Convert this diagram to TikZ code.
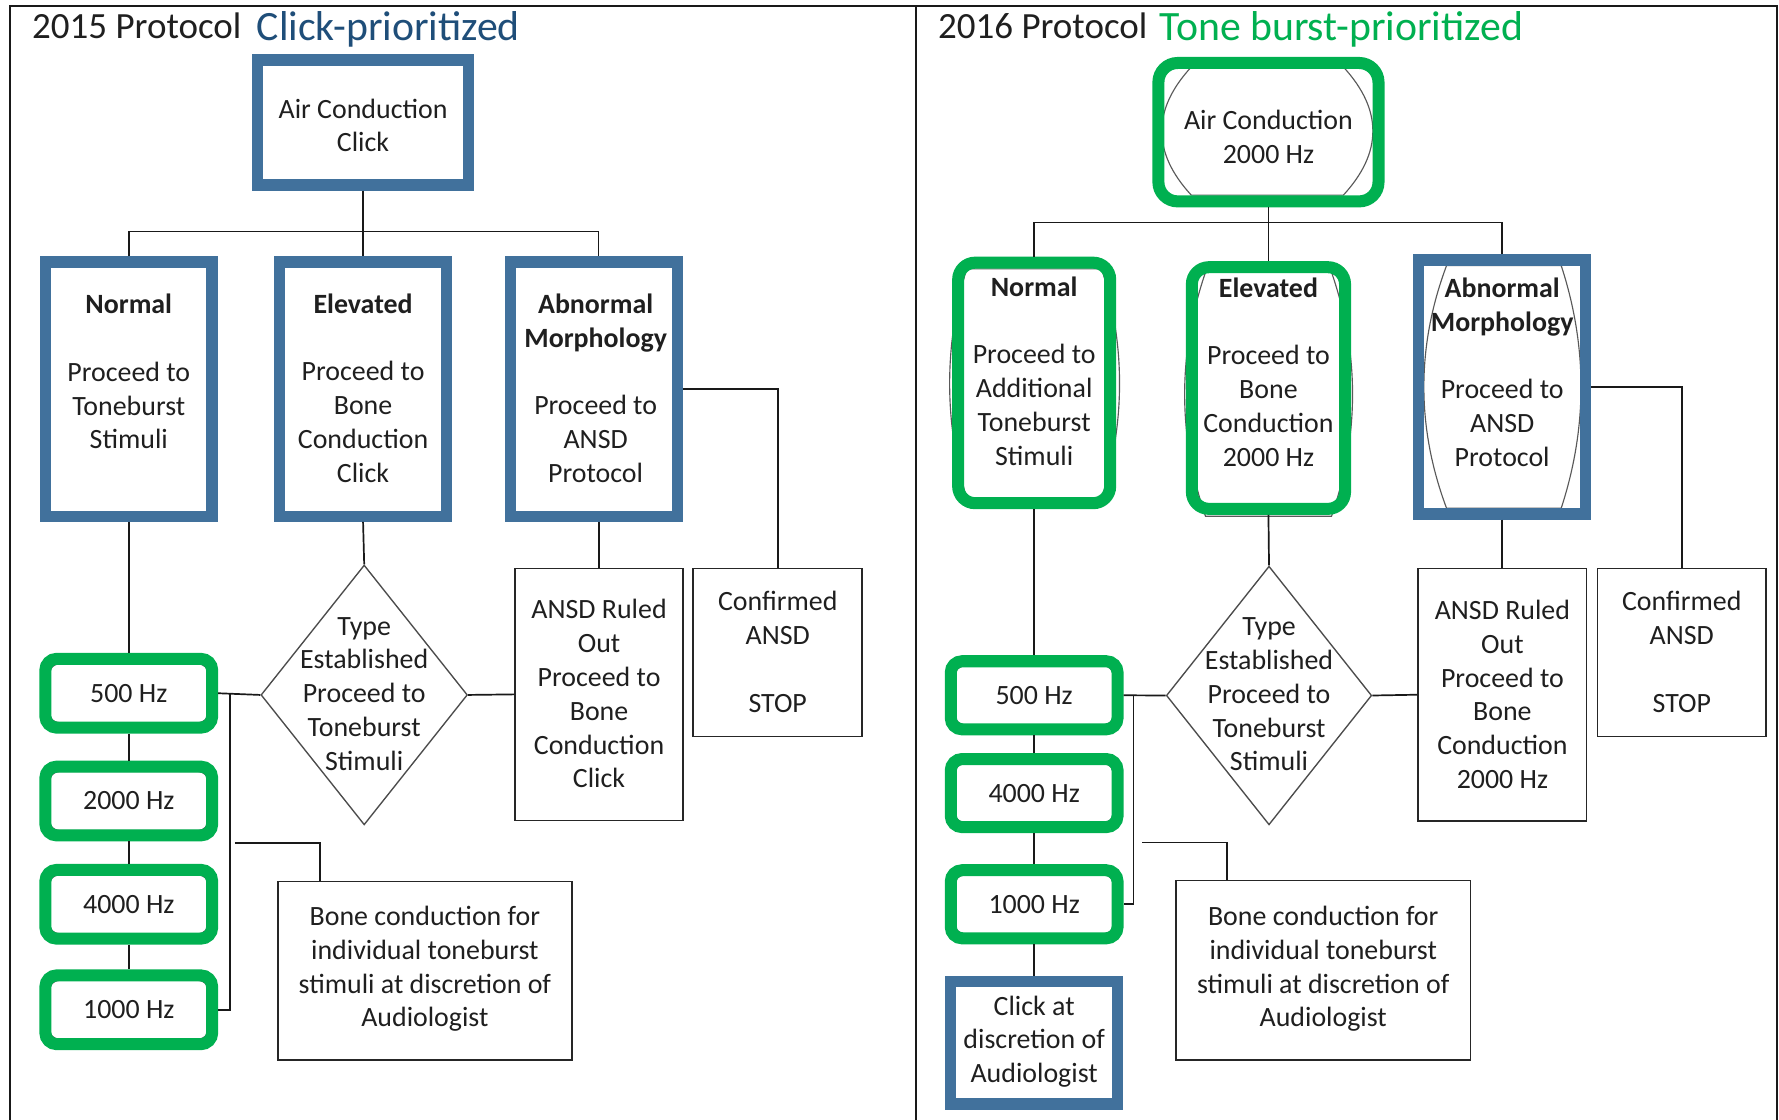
\documentclass[tikz,border=0pt]{standalone}
\usepackage{fontspec}
\setmainfont{Carlito}
\usetikzlibrary{shapes.geometric,calc}
\definecolor{boxblue}{HTML}{41719C}
\definecolor{tgreen}{HTML}{00B050}
\definecolor{titleblue}{HTML}{1F4E79}
\newcommand\boxfont{\fontsize{12.3pt}{14.9pt}\selectfont}
\newcommand\titlefont{\fontsize{16.3pt}{19pt}\selectfont}
\newcommand\titlebig{\fontsize{18.4pt}{22pt}\selectfont}
\begin{document}
\begin{tikzpicture}[x=0.5pt,y=-0.5pt,
 txt/.style={align=center,font=\boxfont,inner sep=0pt,text=black!88},
 bbox/.style={draw=boxblue,line width=5pt,inner sep=0pt},
 gbox/.style={draw=tgreen,line width=5.3pt,inner sep=0pt},
 nbox/.style={draw=black!85,line width=0.7pt,inner sep=0pt},
 conn/.style={draw=black!90,line width=0.75pt},
 ghost/.style={draw=black!65,line width=0.5pt},
 freq/.style={gbox,rounded corners=5pt,minimum width=73.5pt,minimum height=30.3pt,font=\boxfont,text=black!88},
 freqin/.style={ghost,rounded corners=4.5pt,minimum width=70pt,minimum height=26pt,inner sep=0pt},
 tall/.style={bbox,minimum width=73.5pt,minimum height=112pt},
 dia/.style={diamond,draw=black!70,line width=0.6pt,inner sep=0pt},
 ttl/.style={anchor=base west,inner sep=0pt},
]
\fill[white] (0,0) rectangle (1568,987);
\useasboundingbox (0,0) rectangle (1568,987);

% frame
\draw[conn,line width=0.9pt] (9,987) -- (9,5.5) -- (1566,5.5) -- (1566,987);
\draw[conn,line width=0.9pt] (807,5.5) -- (807,987);

% titles
\node[ttl,font=\titlefont,text=black!88] (T1a) at (28,34) {2015 Protocol};
\node[ttl,font=\titlebig,text=titleblue] (T1b) at (226,36) {Click-prioritized};
\node[ttl,font=\titlefont,text=black!88] (T2a) at (826.5,34) {2016 Protocol};
\node[ttl,font=\titlebig,text=tgreen] (T2b) at (1021.5,36) {Tone burst-prioritized};

% ================= LEFT PANEL =================
\node[bbox,minimum width=93pt,minimum height=55pt] (LAC) at (320,108) {};
\node[txt] (LACt) at (320,110.5) {Air Conduction\\Click};

\node[tall] (LN) at (113.5,343) {};
\node[txt] (LNt) at (113.5,327.5) {\textbf{Normal}\\[14.9pt]Proceed to\\Toneburst\\Stimuli};
\node[tall] (LEl) at (320,343) {};
\node[txt] (LElt) at (320,342) {\textbf{Elevated}\\[14.9pt]Proceed to\\Bone\\Conduction\\Click};
\node[tall] (LAb) at (523.5,343) {};
\node[txt] (LAbt) at (525,342) {\textbf{Abnormal}\\\textbf{Morphology}\\[14.9pt]Proceed to\\ANSD\\Protocol};

\node[nbox,minimum width=74.5pt,minimum height=74pt] (LConf) at (685.5,575) {};
\node[txt] (LConft) at (685.5,574.5) {Confirmed\\ANSD\\[14.9pt]STOP};
\node[nbox,minimum width=74pt,minimum height=111pt] (LANSD) at (528,612) {};
\node[txt] (LANSDt) at (528,611.5) {ANSD Ruled\\Out\\Proceed to\\Bone\\Conduction\\Click};
\node[dia,minimum width=91pt,minimum height=114.5pt] (LDia) at (321,612.5) {};
\node[txt] (LDiat) at (321,611.5) {Type\\Established\\Proceed to\\Toneburst\\Stimuli};

\node[freqin] (L500i) at (113.5,611) {};
\node[freq] (L500) at (113.5,611) {500 Hz};
\node[freqin] (L2000i) at (113.5,706) {};
\node[freq] (L2000) at (113.5,706) {2000 Hz};
\node[freqin] (L4000i) at (113.5,797) {};
\node[freq] (L4000) at (113.5,797) {4000 Hz};
\node[freqin] (L1000i) at (113.5,890) {};
\node[freq] (L1000) at (113.5,890) {1000 Hz};

\node[nbox,minimum width=129.5pt,minimum height=78.5pt] (LBone) at (374.5,855.5) {};
\node[txt] (LBonet) at (374.5,854) {Bone conduction for\\individual toneburst\\stimuli at discretion of\\Audiologist};

% left connectors
\coordinate (Ljoin) at (320,204);
\draw[conn] (LAC.south) -- (LEl.north);
\draw[conn] (LN.north) |- (Ljoin) -| ([xshift=2pt]LAb.north);
\draw[conn] (LN.south) -- (L500.north);
\draw[conn] (L500.south) -- (L2000.north);
\draw[conn] (L2000.south) -- (L4000.north);
\draw[conn] (L4000.south) -- (L1000.north);
\draw[conn] (L500.east) -- (LDia.west);
\coordinate (Lv) at (202.5,611);
\draw[conn] (Lv) |- (L1000.east);
\coordinate (Lb1) at (207,743);
\coordinate (Lb2) at (282,743);
\draw[conn] (Lb1) -- (Lb2) -- (Lb2 |- LBone.north);
\draw[conn] (LEl.south) -- (LDia.north);
\draw[conn] (LDia.east) -- (LANSD.west);
\draw[conn] (LANSD.north |- LAb.south) -- (LANSD.north);
\draw[conn] (LAb.east) -| (LConf.north);

% ================= RIGHT PANEL =================
% thin inner outlines (under the highlights)
\draw[ghost] (1050,59) -- (1184,59) .. controls (1218.7,96.7) and (1218.7,134.3) .. (1184,172) -- (1050,172) .. controls (1015.3,134.3) and (1015.3,96.7) .. (1050,59) -- cycle;
\draw[ghost] (852,237) -- (971,237) .. controls (992,304) and (992,372) .. (971,439) -- (852,439) .. controls (832,372) and (832,304) .. (852,237) -- cycle;
\draw[ghost] (1062.5,240) -- (1173.6,240) .. controls (1198.3,311.7) and (1198.3,383.3) .. (1173.6,455) -- (1062.5,455) .. controls (1038,383.3) and (1038,311.7) .. (1062.5,240) -- cycle;
\draw[ghost] (1275,234) -- (1376,234) .. controls (1399.3,305.3) and (1399.3,376.7) .. (1376,448) -- (1275,448) .. controls (1248.3,376.7) and (1248.3,305.3) .. (1275,234) -- cycle;

\node[gbox,rounded corners=8.5pt,minimum width=97pt,minimum height=61pt] (RAC) at (1118,116.5) {};
\node[txt] (RACt) at (1118,120.5) {Air Conduction\\2000 Hz};

\node[gbox,rounded corners=7.5pt,minimum width=67pt,minimum height=106pt] (RN) at (911.5,337.5) {};
\node[txt] (RNt) at (911.5,327) {\textbf{Normal}\\[14.9pt]Proceed to\\Additional\\Toneburst\\Stimuli};
\node[gbox,rounded corners=7.5pt,minimum width=67.5pt,minimum height=106.5pt] (REl) at (1118,342) {};
\node[txt] (RElt) at (1118,328) {\textbf{Elevated}\\[14.9pt]Proceed to\\Bone\\Conduction\\2000 Hz};
\node[tall] (RAb) at (1324,341) {};
\node[txt] (RAbt) at (1324,328) {\textbf{Abnormal}\\\textbf{Morphology}\\[14.9pt]Proceed to\\ANSD\\Protocol};

\node[nbox,minimum width=74.25pt,minimum height=74pt] (RConf) at (1482.3,575) {};
\node[txt] (RConft) at (1482.3,574.5) {Confirmed\\ANSD\\[14.9pt]STOP};
\node[nbox,minimum width=74.2pt,minimum height=111.3pt] (RANSD) at (1324.2,612.3) {};
\node[txt] (RANSDt) at (1324.2,612) {ANSD Ruled\\Out\\Proceed to\\Bone\\Conduction\\2000 Hz};
\node[dia,minimum width=90.5pt,minimum height=114pt] (RDia) at (1118.5,613) {};
\node[txt] (RDiat) at (1118.5,612) {Type\\Established\\Proceed to\\Toneburst\\Stimuli};

\node[freqin] (R500i) at (911.5,612.8) {};
\node[freq,minimum height=30pt] (R500) at (911.5,612.8) {500 Hz};
\node[freqin] (R4000i) at (911.5,699) {};
\node[freq,minimum height=30pt] (R4000) at (911.5,699) {4000 Hz};
\node[freqin] (R1000i) at (911.5,797) {};
\node[freq,minimum height=30pt] (R1000) at (911.5,797) {1000 Hz};
\node[bbox,minimum width=73.5pt,minimum height=54pt] (RClick) at (911.5,919) {};
\node[txt] (RClickt) at (911.5,918) {Click at\\discretion of\\Audiologist};

\node[nbox,minimum width=129.75pt,minimum height=79pt] (RBone) at (1166.3,855) {};
\node[txt] (RBonet) at (1166.3,854) {Bone conduction for\\individual toneburst\\stimuli at discretion of\\Audiologist};

% right connectors
\coordinate (Rjoin) at (1118,196);
\draw[conn] (RAC.south) -- (REl.north);
\draw[conn] (RN.north) |- (Rjoin) -| (RAb.north);
\draw[conn] (RN.south) -- (R500.north);
\draw[conn] (R500.south) -- (R4000.north);
\draw[conn] (R4000.south) -- (R1000.north);
\draw[conn] (R1000.south) -- (RClick.north);
\draw[conn] (R500.east) -- (RDia.west);
\coordinate (Rv) at (999,612.8);
\draw[conn] (Rv) |- (R1000.east);
\coordinate (Rb1) at (1006.6,742.6);
\coordinate (Rb2) at (1081.3,742.6);
\draw[conn] (Rb1) -- (Rb2) -- (Rb2 |- RBone.north);
\draw[conn] (REl.south) -- (RDia.north);
\draw[conn] (RDia.east) -- (RANSD.west);
\draw[conn] (RAb.south) -- (RAb.south |- RANSD.north);
\draw[conn] (RAb.east) -| (RConf.north);
\end{tikzpicture}
\end{document}
